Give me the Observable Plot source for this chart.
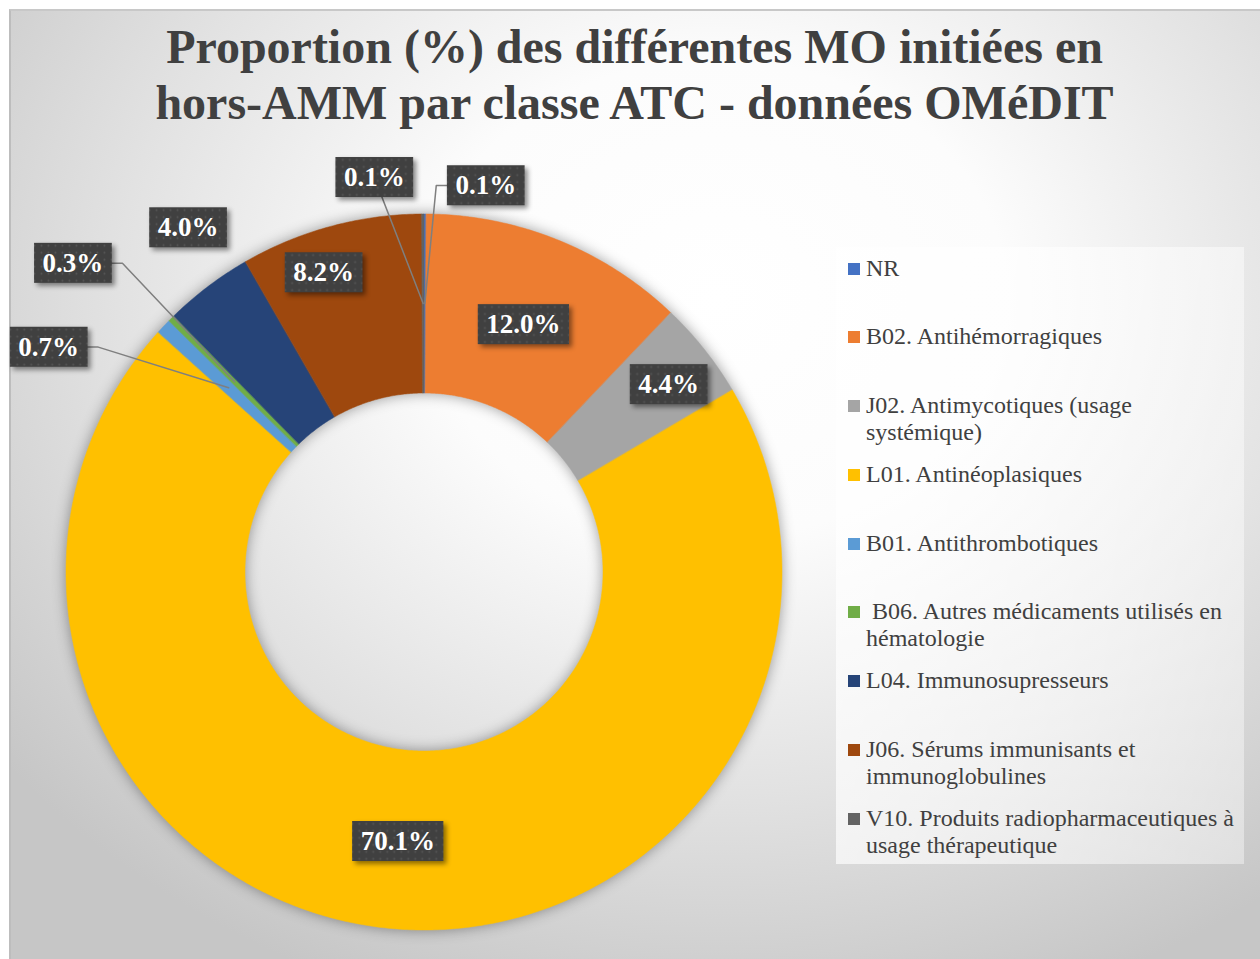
<!DOCTYPE html>
<html>
<head>
<meta charset="utf-8">
<script src="https://cdn.jsdelivr.net/npm/d3@7"></script>
<script src="https://cdn.jsdelivr.net/npm/@observablehq/plot@0.6"></script>
<style>
  html, body { margin: 0; padding: 0; background: #ffffff; width: 1260px; height: 959px; overflow: hidden; }
  #frame { position: absolute; left: 9px; top: 9px; width: 1260px; height: 960px;
    border-left: 2px solid #bdbdbd; border-top: 2px solid #c8c8c8;
    background: radial-gradient(ellipse 72% 78% at 56% 30%, #ffffff 0%, #fcfcfc 32%, #e2e2e2 66%, #c6c6c6 100%); }
  #title { position: absolute; left: 9px; width: 1251px; top: 19px; text-align: center;
    font-family: "Liberation Serif", "Times New Roman", serif; font-weight: bold; font-size: 48px;
    line-height: 56px; color: #404040; }
  #chart { position: absolute; left: 0; top: 0; }
  #legend { position: absolute; left: 836px; top: 247px; width: 408px; height: 617px;
    background: linear-gradient(100deg, rgba(255,255,255,0.75) 0%, rgba(255,255,255,0.4) 100%); }
  .item { position: absolute; left: 12px; display: flex; align-items: flex-start; }
  .sw { width: 12px; height: 12px; margin-top: 8px; flex: none; }
  .lt { margin-left: 6px; width: 372px; font-family: "Liberation Serif", "Times New Roman", serif;
    font-size: 24px; line-height: 27px; color: #404040; white-space: pre-wrap; }
</style>
</head>
<body>
<div id="frame"></div>
<div id="title">Proportion (%) des différentes MO initiées en<br>hors-AMM par classe ATC - données OMéDIT</div>
<div id="chart"></div>
<div id="legend"></div>
<script>
// ---- data ----
const categories = [
  "NR",
  "B02. Antihémorragiques",
  "J02. Antimycotiques (usage systémique)",
  "L01. Antinéoplasiques",
  "B01. Antithrombotiques",
  " B06. Autres médicaments utilisés en hématologie",
  "L04. Immunosupresseurs",
  "J06. Sérums immunisants et immunoglobulines",
  "V10. Produits radiopharmaceutiques à usage thérapeutique"
];
const values = [0.1, 12.0, 4.4, 70.1, 0.7, 0.3, 4.0, 8.2, 0.1];
const valueLabels = ["0.1%", "12.0%", "4.4%", "70.1%", "0.7%", "0.3%", "4.0%", "8.2%", "0.1%"];
const colors = ["#4472C4", "#ED7D31", "#A5A5A5", "#FFC000", "#5B9BD5", "#70AD47", "#264478", "#9E480E", "#636363"];

// ---- label layout (relative to each slice's mid-angle) ----
const labelAngleShift = [8.9, -0.1, 1.0, -0.2, -12.4, -3.8, 2.7, -3.4, -7.0];
const labelRadius = [1.093, 0.745, 0.861, 0.756, 1.222, 1.306, 1.166, 0.882, 1.111];
const leaderElbow = [-1, null, null, null, 1, 1, null, null, 0]; // null = no leader line

// ---- geometry ----
const W = 1260, H = 959, R = 358, CX = 423.5, CY = 571.5, HOLE = 0.5;
const total = d3.sum(values);
const slices = [], labelRows = [], leaders = [];
let acc = 0;
const rad = d => d * Math.PI / 180;
categories.forEach((c, i) => {
  const a0 = acc / total * 2 * Math.PI;
  acc += values[i];
  const a1 = acc / total * 2 * Math.PI;
  const n = Math.max(2, Math.ceil((a1 - a0) / (Math.PI / 360)));
  for (let k = 0; k <= n; k++) { const a = a0 + (a1 - a0) * k / n; slices.push({cat: c, x: Math.sin(a), y: Math.cos(a)}); }
  for (let k = n; k >= 0; k--) { const a = a0 + (a1 - a0) * k / n; slices.push({cat: c, x: HOLE * Math.sin(a), y: HOLE * Math.cos(a)}); }
  const mid = (a0 + a1) / 2;
  const la = mid + rad(labelAngleShift[i]);
  const lx = labelRadius[i] * Math.sin(la), ly = labelRadius[i] * Math.cos(la);
  labelRows.push({cat: c, x: lx, y: ly, text: valueLabels[i]});
  if (leaderElbow[i] !== null) {
    const rm = (1 + HOLE) / 2;
    leaders.push({id: i, x: lx, y: ly});
    if (leaderElbow[i] !== 0) leaders.push({id: i, x: lx + leaderElbow[i] * 49.5 / R, y: ly});
    leaders.push({id: i, x: rm * Math.sin(mid), y: rm * Math.cos(mid)});
  }
});

const plot = Plot.plot({
  width: W, height: H,
  margin: 0,
  style: {background: "transparent", overflow: "visible"},
  x: {axis: null, domain: [-CX / R, (W - CX) / R]},
  y: {axis: null, domain: [-(H - CY) / R, CY / R]},
  color: {domain: categories, range: colors},
  marks: [
    Plot.line(slices, {x: "x", y: "y", z: "cat", fill: "cat", stroke: "cat", strokeWidth: 0.5, curve: "linear-closed"}),
    Plot.line(leaders, {x: "x", y: "y", z: "id", stroke: "#7f7f7f", strokeWidth: 1.5, curve: "linear"}),
    Plot.text(labelRows, {x: "x", y: "y", text: "text", fill: "#ffffff", fontSize: 27, fontWeight: "bold",
      fontFamily: "Liberation Serif, Times New Roman, serif"})
  ]
});
document.getElementById("chart").append(plot);

// label boxes, dotted pattern and shadows
const svg = d3.select(plot);
const defs = svg.insert("defs", ":first-child");
const pat = defs.append("pattern").attr("id", "dots").attr("patternUnits", "userSpaceOnUse").attr("width", 7).attr("height", 7);
pat.append("rect").attr("width", 7).attr("height", 7).attr("fill", "#404040");
pat.append("circle").attr("cx", 3.5).attr("cy", 3.5).attr("r", 1).attr("fill", "#565656");

const lineGroups = plot.querySelectorAll('g[aria-label="line"]');
lineGroups[0].style.filter = "drop-shadow(0px 0px 7px rgba(0,0,0,0.38))";
const textGroup = plot.querySelector('g[aria-label="text"]');
textGroup.querySelectorAll("text").forEach(t => {
  const b = t.getBBox();
  const h = 40, w = b.width + 17;
  const rect = document.createElementNS("http://www.w3.org/2000/svg", "rect");
  rect.setAttribute("x", b.x + b.width / 2 - w / 2);
  rect.setAttribute("y", b.y + b.height / 2 - h / 2);
  rect.setAttribute("width", w);
  rect.setAttribute("height", h);
  rect.setAttribute("fill", "url(#dots)");
  const tr = t.getAttribute("transform");
  if (tr) rect.setAttribute("transform", tr);
  rect.style.filter = "drop-shadow(3px 3px 2.5px rgba(0,0,0,0.45))";
  t.parentNode.insertBefore(rect, t);
});

// legend
const legend = d3.select("#legend");
categories.forEach((c, i) => {
  const it = legend.append("div").attr("class", "item").style("top", (7.5 + 68.75 * i) + "px");
  it.append("div").attr("class", "sw").style("background", colors[i]);
  it.append("div").attr("class", "lt").text(c);
});
</script>
</body>
</html>
